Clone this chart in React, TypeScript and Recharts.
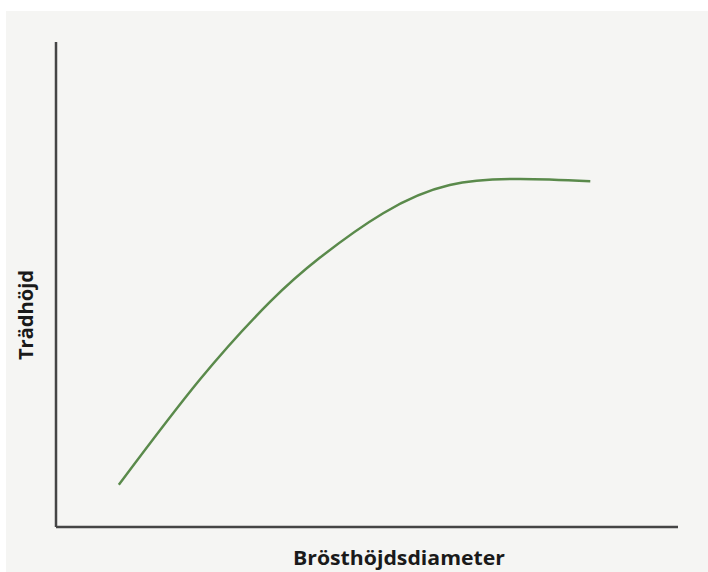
import React from "react";
import { LineChart, Line, XAxis, YAxis } from "recharts";

const diameter = [10.1, 23.2, 34.4, 42.4, 52.6, 63.3, 74.6, 85.9];
const height = [8.7, 30.5, 46.4, 55.5, 64.7, 70.5, 71.75, 71.3];
const xLabel = "Brösthöjdsdiameter";
const yLabel = "Trädhöjd";

const data = diameter.map((d, i) => ({ d, h: height[i] }));

const font = "'Open Sans', Lato, sans-serif";

export default function App() {
  return (
    <div style={{ position: "absolute", left: 0, top: 0, width: 708, height: 572, background: "#fff" }}>
      <div style={{ position: "absolute", left: 6, top: 11, width: 702, height: 561, background: "#f5f5f3" }} />
      <div style={{ position: "absolute", left: 0, top: 0 }}>
        <LineChart width={708} height={572} data={data} margin={{ top: 42, right: 30, bottom: 35, left: 46 }}>
          <XAxis
            dataKey="d"
            type="number"
            domain={[0, 100]}
            height={10}
            tick={false}
            tickLine={false}
            axisLine={{ stroke: "#454545", strokeWidth: 2.5 }}
          />
          <YAxis
            type="number"
            domain={[0, 100]}
            width={10}
            tick={false}
            tickLine={false}
            axisLine={{ stroke: "#454545", strokeWidth: 2.5 }}
          />
          <Line
            dataKey="h"
            type="natural"
            stroke="#5a8a4b"
            strokeWidth={2.5}
            dot={false}
            isAnimationActive={false}
          />
        </LineChart>
      </div>
      <svg style={{ position: "absolute", left: 0, top: 0 }} width={708} height={572}>
        <text
          x={399}
          y={565}
          textAnchor="middle"
          fontFamily={font}
          fontWeight={700}
          fontSize={19}
          textLength={212}
          lengthAdjust="spacingAndGlyphs"
          fill="#1a1a1a"
        >
          {xLabel}
        </text>
        <text
          x={0}
          y={0}
          transform="translate(33,315) rotate(-90)"
          textAnchor="middle"
          fontFamily={font}
          fontWeight={700}
          fontSize={19}
          textLength={90}
          lengthAdjust="spacingAndGlyphs"
          fill="#1a1a1a"
        >
          {yLabel}
        </text>
      </svg>
    </div>
  );
}
